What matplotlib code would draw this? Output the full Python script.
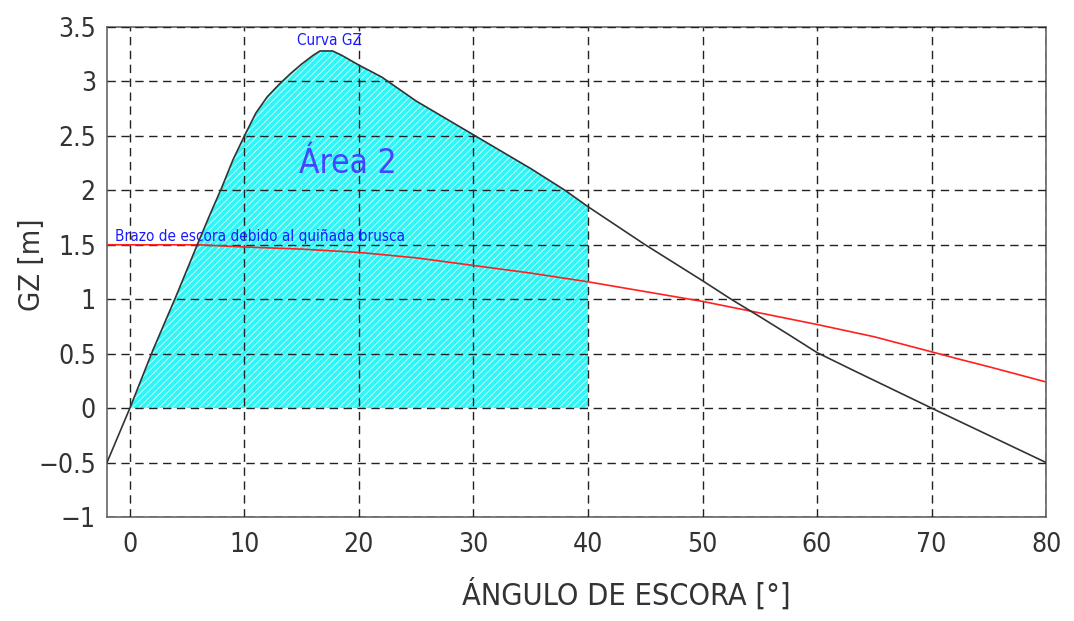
import matplotlib
matplotlib.use('Agg')
import matplotlib.pyplot as plt
from matplotlib import font_manager

# curva GZ
ang_gz = [-2, 0, 2, 4, 6, 7, 8, 9, 10, 11, 12, 13, 14, 15, 16, 16.6, 17.7, 18.5,
          19, 20, 22, 25, 30, 35, 38, 40, 45, 50, 52.5, 55, 57.6, 60, 63.3, 70, 75, 80]
gz = [-0.5, 0.0, 0.53, 1.02, 1.53, 1.78, 2.02, 2.28, 2.5, 2.71, 2.86, 2.97, 3.07,
      3.16, 3.24, 3.28, 3.28, 3.24, 3.21, 3.15, 3.04, 2.82, 2.51, 2.2, 2.0, 1.85,
      1.5, 1.17, 1.0, 0.84, 0.67, 0.51, 0.34, 0.0, -0.25, -0.5]

# brazo escorante (quiñada brusca)
ang_br = [-2, 0, 5, 6, 10, 15, 20, 25, 30, 35, 40, 45, 50, 55, 60, 65, 70, 72.5, 75, 80]
brazo = [1.5, 1.5, 1.5, 1.5, 1.48, 1.46, 1.43, 1.38, 1.31, 1.24, 1.16, 1.07, 0.98,
         0.874, 0.768, 0.655, 0.517, 0.447, 0.38, 0.24]

area_fin = 40

x_ticks = [0, 10, 20, 30, 40, 50, 60, 70, 80]
y_ticks = [-1, -0.5, 0, 0.5, 1, 1.5, 2, 2.5, 3, 3.5]
y_labels = ['\u22121', '\u22120.5', '0', '0.5', '1', '1.5', '2', '2.5', '3', '3.5']

# buscar una fuente estrecha si hay
fuentes = font_manager.fontManager.ttflist
cond = [f for f in fuentes if f.name == 'DejaVu Sans' and f.stretch == 'condensed']
if cond:
    plt.rcParams['font.family'] = ['DejaVu Sans']
    plt.rcParams['font.stretch'] = 'condensed'
else:
    plt.rcParams['font.family'] = ['Roboto', 'DejaVu Sans']
plt.rcParams['hatch.linewidth'] = 0.7
plt.rcParams['hatch.color'] = '#c8ffff'

fig = plt.figure(figsize=(10.74, 6.21), dpi=100)
ax = fig.add_axes([0.0996, 0.1675, 0.8744, 0.789])

xa = [a for a in ang_gz if 0 <= a <= area_fin]
ya = [g for a, g in zip(ang_gz, gz) if 0 <= a <= area_fin]
ax.fill_between(xa, 0, ya, facecolor='#2ef6f6', edgecolor='#c8ffff', hatch='/////',
                linewidth=0, zorder=1)

ax.plot(ang_br, brazo, color='#ff2020', lw=1.2, zorder=3)
ax.plot(ang_gz, gz, color='#333333', lw=1.2, zorder=4)

ax.set_xlim(-2, 80)
ax.set_ylim(-1, 3.5)
ax.set_xticks(x_ticks)
ax.set_yticks(y_ticks)
ax.set_yticklabels(y_labels)
ax.tick_params(length=0, labelsize=19, colors='#333333', pad=8)
ax.tick_params(axis='x', pad=11)
ax.grid(True, color='#222222', linestyle=(0, (6, 4)), linewidth=1.0, zorder=2)
ax.set_axisbelow(False)
for s in ax.spines.values():
    s.set_color('#666666')
    s.set_linewidth(1.2)

ax.text(14.6, 3.38, 'Curva GZ', color='#1a1aff', fontsize=11, va='center')
ax.text(14.8, 2.25, 'Área 2', color='#4545ff', fontsize=24, va='center')
ax.text(-1.3, 1.58, 'Brazo de escora debido al quiñada brusca', color='#1a1aff',
        fontsize=11, va='center')

fig.text(0.583, 0.042, 'ÁNGULO DE ESCORA [°]', fontsize=22, color='#333333',
         ha='center', va='center')
fig.text(0.03, 0.573, 'GZ [m]', fontsize=21, color='#333333', rotation=90,
         ha='center', va='center')

fig.savefig('out.png', dpi=100)
